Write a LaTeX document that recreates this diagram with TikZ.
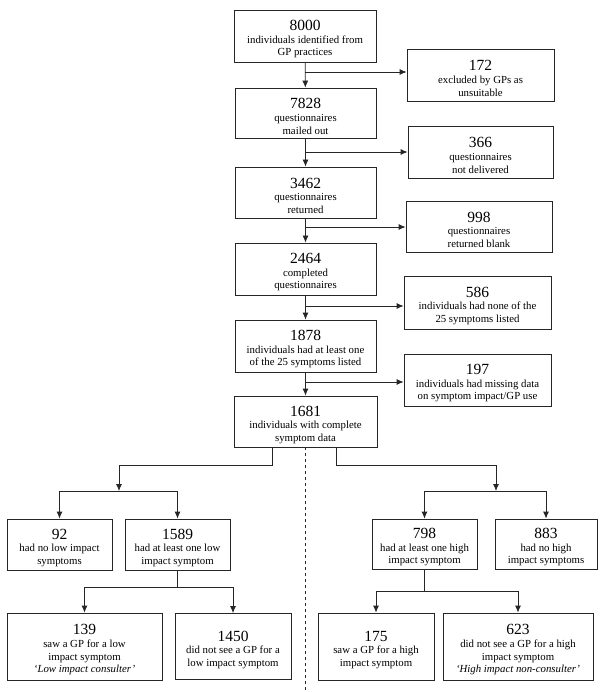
\documentclass[tikz,border=0pt]{standalone}
\usepackage{fontspec}
\setmainfont{Liberation Serif}
\usepackage{tikz}
\usetikzlibrary{arrows.meta}

\newcommand{\numtxt}[1]{{\fontsize{15.5}{15}\selectfont\rule{0pt}{17pt}#1}}

\tikzset{
  box/.style 2 args={draw=black!85, line width=0.8pt, align=center,
    minimum width=#1pt, minimum height=#2pt, inner sep=1pt,
    font=\fontsize{10.8}{12.6}\selectfont},
  arr/.style={draw=black!85, line width=0.8pt, -{Latex[length=7pt,width=6pt]}},
  lin/.style={draw=black!85, line width=0.8pt}
}

\begin{document}
\begin{tikzpicture}[x=1pt, y=-1pt]
\useasboundingbox (0,0) rectangle (600,692);

% main column
\node[box={142}{52}] (n8000) at (305,36) {\numtxt{8000}\\individuals identified from\\GP practices};
\node[box={141}{50}] (n7828) at (305.5,113) {\numtxt{7828}\\questionnaires\\mailed out};
\node[box={141}{51}] (n3462) at (305.5,192.5) {\numtxt{3462}\\questionnaires\\returned};
\node[box={141}{52}] (n2464) at (305.5,269) {\numtxt{2464}\\completed\\questionnaires};
\node[box={141}{52}] (n1878) at (305.5,346) {\numtxt{1878}\\individuals had at least one\\of the 25 symptoms listed};
\node[box={143}{51}] (n1681) at (305.5,421.5) {\numtxt{1681}\\individuals with complete\\symptom data};

% exclusions
\node[box={147}{52}] (n172) at (480.5,75) {\numtxt{172}\\excluded by GPs as\\unsuitable};
\node[box={145}{52}] (n366) at (480.5,152) {\numtxt{366}\\questionnaires\\not delivered};
\node[box={146}{51}] (n998) at (479,226.5) {\numtxt{998}\\questionnaires\\returned blank};
\node[box={147}{53}] (n586) at (477.5,302.5) {\numtxt{586}\\individuals had none of the\\25 symptoms listed};
\node[box={147}{52}] (n197) at (477.5,380) {\numtxt{197}\\individuals had missing data\\on symptom impact/GP use};

% low impact side
\node[box={105}{51}] (n92) at (59.5,544.5) {\numtxt{92}\\had no low impact\\symptoms};
\node[box={105}{51}] (n1589) at (177.5,544.5) {\numtxt{1589}\\had at least one low\\impact symptom};
\node[box={155}{67}] (n139) at (84.5,646.5) {\numtxt{139}\\saw a GP for a low\\impact symptom\\\textit{‘Low impact consulter’}};
\node[box={116}{66}] (n1450) at (233,646.5) {\numtxt{1450}\\did not see a GP for a\\low impact symptom};

% high impact side
\node[box={105}{50}] (n798) at (424.5,544) {\numtxt{798}\\had at least one high\\impact symptom};
\node[box={102}{50}] (n883) at (546,544) {\numtxt{883}\\had no high\\impact symptoms};
\node[box={116}{67}] (n175) at (376,646.5) {\numtxt{175}\\saw a GP for a high\\impact symptom};
\node[box={150}{67}] (n623) at (518,646.5) {\numtxt{623}\\did not see a GP for a high\\impact symptom\\\textit{‘High impact non-consulter’}};

% branch points
\coordinate (b1) at (n8000.south |- 0,72);
\coordinate (b2) at (n7828.south |- 0,152);
\coordinate (b3) at (n3462.south |- 0,227);
\coordinate (b4) at (n2464.south |- 0,306);
\coordinate (b5) at (n1878.south |- 0,382);
\coordinate (la) at (272,447);
\coordinate (lb) at (119,465);
\coordinate (lc) at (119,491);
\coordinate (ra) at (336,447);
\coordinate (rb) at (496,465);
\coordinate (rc) at (496,491);
\coordinate (ld) at (n1589.south |- 0,587);
\coordinate (rd) at (n798.south |- 0,591);

\draw[arr] (n8000) -- (n7828);
\draw[arr] (n7828) -- (n3462);
\draw[arr] (n3462) -- (n2464);
\draw[arr] (n2464) -- (n1878);
\draw[arr] (n1878) -- (n1681);
\draw[arr] (b1) -- (b1 -| n172.west);
\draw[arr] (b2) -- (b2 -| n366.west);
\draw[arr] (b3) -- (b3 -| n998.west);
\draw[arr] (b4) -- (b4 -| n586.west);
\draw[arr] (b5) -- (b5 -| n197.west);

\draw[arr] (la) |- (lb) -- (lc);
\draw[lin] (lc -| n92.north) -- (lc -| n1589.north);
\draw[arr] (lc -| n92.north) -- (n92.north);
\draw[arr] (lc -| n1589.north) -- (n1589.north);
\draw[lin] (n1589.south) -- (ld);
\draw[arr] (ld) -| (n139.north);
\draw[arr] (ld) -| (n1450.north);

\draw[arr] (ra) |- (rb) -- (rc);
\draw[lin] (rc -| n798.north) -- (rc -| n883.north);
\draw[arr] (rc -| n798.north) -- (n798.north);
\draw[arr] (rc -| n883.north) -- (n883.north);
\draw[lin] (n798.south) -- (rd);
\draw[arr] (rd) -| (n175.north);
\draw[arr] (rd) -| (n623.north);

\draw[lin, dashed] (n1681.south) -- (n1681.south |- 0,692);
\end{tikzpicture}
\end{document}
